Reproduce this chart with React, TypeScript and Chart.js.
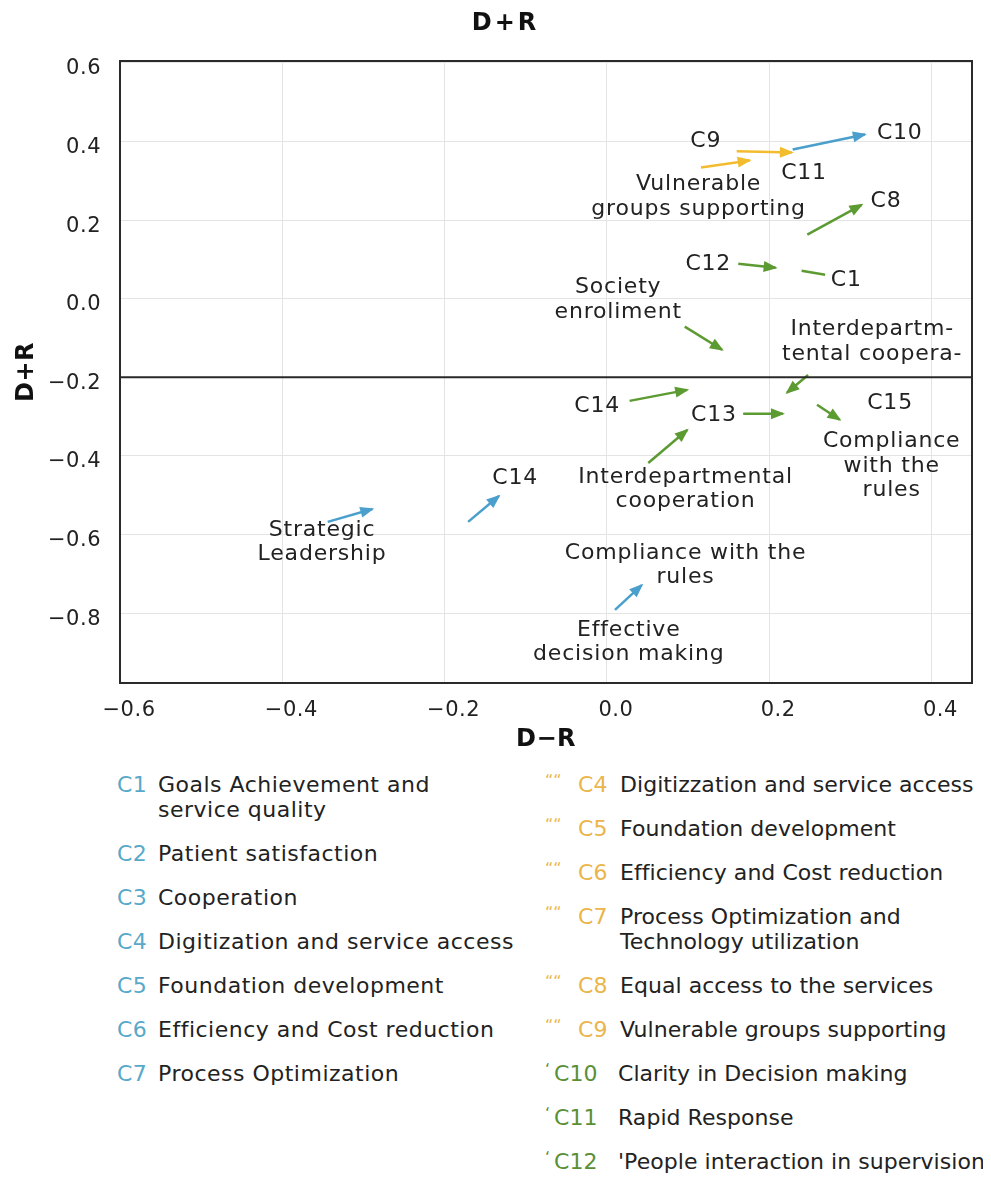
import React, { useEffect, useRef } from "react";
import { Chart, registerables } from "chart.js";

Chart.register(...registerables);

// ---------- axes ----------
const xTicks = [-0.6, -0.4, -0.2, 0.0, 0.2, 0.4];
const yTicks = [-0.8, -0.6, -0.4, -0.2, 0.0, 0.2, 0.4, 0.6];
const xRange = [-0.6, 0.45];
const yRange = [-0.978, 0.605];
const thresholdY = -0.2;
const topTitle = "D+R";
const yTitle = "D+R";
const xTitle = "D\u2212R";

// ---------- arrows (data coordinates) ----------
const arrowFromX = [0.229, 0.160, 0.116, 0.247, 0.162, 0.240, 0.096, 0.248, 0.028, 0.168, 0.259, 0.051, -0.344, -0.171, 0.010];
const arrowFromY = [0.380, 0.375, 0.334, 0.163, 0.089, 0.071, -0.071, -0.194, -0.260, -0.293, -0.270, -0.418, -0.568, -0.568, -0.792];
const arrowToX = [0.318, 0.228, 0.176, 0.314, 0.208, 0.269, 0.142, 0.222, 0.099, 0.217, 0.287, 0.099, -0.289, -0.133, 0.043];
const arrowToY = [0.418, 0.372, 0.352, 0.239, 0.079, 0.061, -0.130, -0.239, -0.232, -0.293, -0.308, -0.334, -0.535, -0.502, -0.729];
const arrowGroup = ["blue", "yellow", "yellow", "green", "green", "green", "green", "green", "green", "green", "green", "green", "blue", "blue", "blue"];
const arrowHasHead = [true, true, true, true, true, false, true, true, true, true, true, true, true, true, true];

// ---------- in-plot labels (data coordinates of first line) ----------
const labelText = [
  "C9",
  "C10",
  "C11",
  "Vulnerable\ngroups supporting",
  "C8",
  "C12",
  "C1",
  "Society\nenroliment",
  "Interdepartm-\ntental coopera-",
  "C14",
  "C13",
  "C15",
  "Compliance\nwith the\nrules",
  "Interdepartmental\ncooperation",
  "C14",
  "Strategic\nLeadership",
  "Compliance with the\nrules",
  "Effective\ndecision making",
];
const labelX = [0.122, 0.361, 0.243, 0.113, 0.344, 0.125, 0.295, 0.014, 0.327, -0.012, 0.132, 0.349, 0.351, 0.097, -0.113, -0.351, 0.097, 0.027];
const labelY = [0.400, 0.420, 0.318, 0.290, 0.247, 0.087, 0.046, 0.028, -0.079, -0.275, -0.296, -0.265, -0.364, -0.454, -0.456, -0.589, -0.647, -0.843];

// ---------- legend ----------
const legendLeftCodes = ["C1", "C2", "C3", "C4", "C5", "C6", "C7"];
const legendLeftTexts = [
  "Goals Achievement and\nservice quality",
  "Patient satisfaction",
  "Cooperation",
  "Digitization and service access",
  "Foundation development",
  "Efficiency and Cost reduction",
  "Process Optimization",
];
const legendRightCodes = ["C4", "C5", "C6", "C7", "C8", "C9", "C10", "C11", "C12"];
const legendRightTexts = [
  "Digitizzation and service access",
  "Foundation development",
  "Efficiency and Cost reduction",
  "Process Optimization and\nTechnology utilization",
  "Equal access to the services",
  "Vulnerable groups supporting",
  "Clarity in Decision making",
  "Rapid Response",
  "'People interaction in supervision",
];
const legendRightGroup = ["yellow", "yellow", "yellow", "yellow", "yellow", "yellow", "green", "green", "green"];

const arrowPalette: Record<string, string> = { blue: "#4a9fcc", yellow: "#f2bc2e", green: "#5c9a32" };
const legendPalette: Record<string, string> = { blue: "#58a9c9", yellow: "#eab54a", green: "#5a8f36" };

const FONT = '"DejaVu Sans", "Noto Sans", sans-serif';

const fmt = (v: number) => (v < 0 ? "\u2212" : "") + Math.abs(v).toFixed(1);

const overlayPlugin = {
  id: "overlay",
  beforeDraw(chart: any) {
    chart.ctx.letterSpacing = "0.5px";
  },
  afterDatasetsDraw(chart: any) {
    const ctx = chart.ctx;
    chart.data.datasets.forEach((ds: any, i: number) => {
      if (!arrowHasHead[i]) return;
      const meta = chart.getDatasetMeta(i);
      const p0 = meta.data[0];
      const p1 = meta.data[1];
      const ang = Math.atan2(p1.y - p0.y, p1.x - p0.x);
      const c = Math.cos(ang);
      const s = Math.sin(ang);
      const len = 12;
      const half = 5.5;
      ctx.save();
      ctx.fillStyle = ds.borderColor;
      ctx.beginPath();
      ctx.moveTo(p1.x + c * 2, p1.y + s * 2);
      ctx.lineTo(p1.x - len * c + half * s, p1.y - len * s - half * c);
      ctx.lineTo(p1.x - len * c - half * s, p1.y - len * s + half * c);
      ctx.closePath();
      ctx.fill();
      ctx.restore();
    });
  },
  afterDraw(chart: any) {
    const ctx = chart.ctx;
    const a = chart.chartArea;
    const xs = chart.scales.x;
    const ys = chart.scales.y;
    ctx.save();
    ctx.strokeStyle = "#2a2a2a";
    ctx.lineWidth = 2;
    const ty = ys.getPixelForValue(thresholdY);
    ctx.beginPath();
    ctx.moveTo(a.left, ty);
    ctx.lineTo(a.right, ty);
    ctx.stroke();
    ctx.strokeRect(a.left, a.top, a.right - a.left, a.bottom - a.top);

    ctx.font = `22px ${FONT}`;
    ctx.fillStyle = "#222";
    ctx.textAlign = "center";
    ctx.textBaseline = "middle";
    ctx.letterSpacing = "0.8px";
    labelText.forEach((t, i) => {
      const px = xs.getPixelForValue(labelX[i]);
      const py = ys.getPixelForValue(labelY[i]);
      t.split("\n").forEach((ln, k) => ctx.fillText(ln, px, py + k * 24.5));
    });

    ctx.font = `bold 24px ${FONT}`;
    ctx.letterSpacing = "3px";
    ctx.fillStyle = "#111";
    ctx.fillText(topTitle, chart.width / 2 + 10, 16);
    ctx.restore();
  },
};

function Legend() {
  const item = (code: string, text: string, color: string, prefixWidth: number, marker?: string, markerWidth?: number) => (
    <div key={code + text} style={{ display: "flex", lineHeight: "25px", marginBottom: "19px", whiteSpace: "nowrap" }}>
      <span style={{ display: "inline-block", width: prefixWidth, flex: "none", whiteSpace: "nowrap" }}>
        {marker !== undefined && (
          <span style={{ display: "inline-block", width: markerWidth, color, fontSize: 16, verticalAlign: "top", lineHeight: "18px" }}>{marker}</span>
        )}
        <span style={{ color }}>{code}</span>
      </span>
      <span style={{ whiteSpace: "pre", color: "#222" }}>{text}</span>
    </div>
  );
  return (
    <div style={{ position: "relative", height: 413, marginTop: 4, fontFamily: FONT, fontSize: 22 }}>
      <div style={{ position: "absolute", left: 109, top: 0, width: 420, letterSpacing: "0.5px" }}>
        {legendLeftCodes.map((c, i) => item(c, legendLeftTexts[i], legendPalette.blue, 41))}
      </div>
      <div style={{ position: "absolute", left: 537, top: 0, width: 438, letterSpacing: "0.05px" }}>
        {legendRightCodes.map((c, i) =>
          legendRightGroup[i] === "yellow"
            ? item(c, legendRightTexts[i], legendPalette.yellow, 75, "\u201C\u201C", 33)
            : item(c, legendRightTexts[i], legendPalette.green, 73, "\u2018", 9)
        )}
      </div>
    </div>
  );
}

export default function App() {
  const canvasRef = useRef<HTMLCanvasElement>(null);
  useEffect(() => {
    const el = canvasRef.current;
    if (!el) return;
    const datasets = arrowFromX.map((_, i) => ({
      label: "arrow" + i,
      data: [
        { x: arrowFromX[i], y: arrowFromY[i] },
        { x: arrowToX[i], y: arrowToY[i] },
      ],
      borderColor: arrowPalette[arrowGroup[i]],
      backgroundColor: arrowPalette[arrowGroup[i]],
      borderWidth: 2.5,
      showLine: true,
      pointRadius: 0,
      fill: false,
    }));
    const chart = new Chart(el, {
      type: "scatter",
      data: { datasets },
      options: {
        animation: false,
        responsive: true,
        maintainAspectRatio: false,
        layout: { padding: { top: 53, right: 11, left: 0, bottom: 0 } },
        plugins: { legend: { display: false }, tooltip: { enabled: false }, title: { display: false } },
        scales: {
          x: {
            type: "linear",
            min: xRange[0],
            max: xRange[1],
            afterBuildTicks: (s: any) => {
              s.ticks = xTicks.map((v) => ({ value: v }));
            },
            afterFit: (s: any) => {
              s.height = 85;
            },
            grid: { color: "#e4e4e4", lineWidth: 1, drawTicks: false },
            border: { display: false },
            ticks: {
              padding: 15,
              labelOffset: 9,
              color: "#222",
              font: { family: FONT, size: 21 },
              callback: (v: any) => fmt(Number(v)),
              maxRotation: 0,
              autoSkip: false,
            },
            title: { display: true, text: xTitle, color: "#111", font: { family: FONT, size: 24, weight: "bold" }, padding: { top: 4, bottom: 14 } },
          },
          y: {
            type: "linear",
            min: yRange[0],
            max: yRange[1],
            afterBuildTicks: (s: any) => {
              s.ticks = yTicks.map((v) => ({ value: v }));
            },
            afterFit: (s: any) => {
              s.width = 112;
            },
            grid: { color: "#e4e4e4", lineWidth: 1, drawTicks: false },
            border: { display: false },
            ticks: {
              padding: 19,
              labelOffset: 6,
              color: "#222",
              font: { family: FONT, size: 21 },
              callback: (v: any) => fmt(Number(v)),
              autoSkip: false,
            },
            title: { display: true, text: yTitle, color: "#111", font: { family: FONT, size: 24, weight: "bold" }, padding: { top: 4, bottom: 4 } },
          },
        },
      },
      plugins: [overlayPlugin],
    } as any);
    return () => chart.destroy();
  }, []);

  return (
    <div style={{ width: 983, overflowX: "clip", marginBottom: -8 } as any}>
      <div style={{ position: "relative", width: 975, height: 760 }}>
        <canvas ref={canvasRef} />
      </div>
      <Legend />
    </div>
  );
}
